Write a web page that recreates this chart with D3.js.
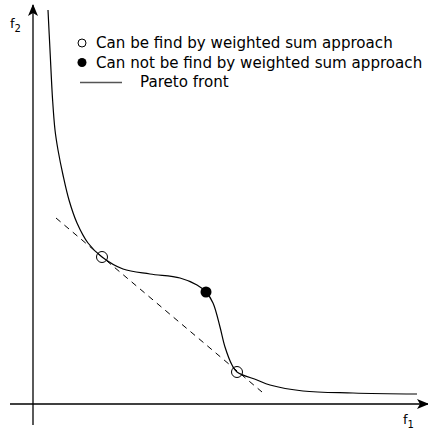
<!DOCTYPE html>
<html>
<head>
<meta charset="utf-8">
<script src="https://cdn.jsdelivr.net/npm/d3@7"></script>
<style>
  body { margin: 0; background: #fff; }
  svg text { font-family: "DejaVu Sans", sans-serif; }
</style>
</head>
<body>
<div id="chart"></div>
<script>
// pareto front (f1, f2)
const frontF1 = [0.375, 0.425, 0.49, 0.55, 0.625, 0.75, 0.9, 1.1, 1.375, 1.725, 2.25, 2.925, 3.675, 4.1, 4.325, 4.5, 4.675, 4.8, 4.975, 5.1, 5.6, 5.925, 6.75, 8.0, 9.6];
const frontF2 = [9.85, 8.85, 7.6, 6.85, 6.35, 5.725, 5.1, 4.525, 4.025, 3.675, 3.375, 3.25, 3.15, 2.975, 2.8, 2.525, 1.925, 1.425, 0.975, 0.8, 0.6, 0.475, 0.325, 0.275, 0.25];
// points found / not found by weighted sum
const openPts = [[1.725, 3.675], [5.1, 0.8]];
const filledPts = [[4.325, 2.8]];
// the dashed weight line
const dashF1 = [0.575, 5.725];
const dashF2 = [4.65, 0.3];
const legendLabels = ["Can be find by weighted sum approach", "Can not be find by weighted sum approach", "Pareto front"];
const axisF1 = [-0.575, 9.875];
const axisF2 = [-0.525, 9.975];

const W = 428, H = 432;
const x = d3.scaleLinear().domain([0, 10]).range([33, 433]);
const y = d3.scaleLinear().domain([0, 10]).range([404, 4]);

const svg = d3.select("#chart").append("svg")
  .attr("width", W).attr("height", H);

svg.append("defs").append("marker")
  .attr("id", "arrow")
  .attr("viewBox", "0 0 12 10")
  .attr("refX", 11).attr("refY", 5)
  .attr("markerWidth", 12).attr("markerHeight", 10)
  .attr("markerUnits", "userSpaceOnUse")
  .attr("orient", "auto")
  .append("path")
  .attr("d", "M0,0 L12,5 L0,10 L3,5 Z")
  .attr("fill", "#000");

// axes
svg.append("line")
  .attr("x1", x(axisF1[0])).attr("x2", x(axisF1[1]))
  .attr("y1", y(0)).attr("y2", y(0))
  .attr("stroke", "#000").attr("stroke-width", 1.3)
  .attr("marker-end", "url(#arrow)");
svg.append("line")
  .attr("x1", x(0)).attr("x2", x(0))
  .attr("y1", y(axisF2[0])).attr("y2", y(axisF2[1]))
  .attr("stroke", "#000").attr("stroke-width", 1.3)
  .attr("marker-end", "url(#arrow)");

// axis labels
const lab2 = svg.append("text").attr("x", 10).attr("y", 28).attr("font-size", 13);
lab2.append("tspan").text("f");
lab2.append("tspan").attr("dy", 4).attr("font-size", 10).text("2");
const lab1 = svg.append("text").attr("x", 403).attr("y", 424).attr("font-size", 13);
lab1.append("tspan").text("f");
lab1.append("tspan").attr("dy", 4).attr("font-size", 10).text("1");

// dashed line
svg.append("line")
  .attr("x1", x(dashF1[0])).attr("y1", y(dashF2[0]))
  .attr("x2", x(dashF1[1])).attr("y2", y(dashF2[1]))
  .attr("stroke", "#000").attr("stroke-width", 1)
  .attr("stroke-dasharray", "6,5");

// pareto front
const line = d3.line()
  .x(d => x(d[0])).y(d => y(d[1]))
  .curve(d3.curveCatmullRom.alpha(0.5));
svg.append("path")
  .datum(frontF1.map((v, i) => [v, frontF2[i]]))
  .attr("d", line)
  .attr("fill", "none")
  .attr("stroke", "#000")
  .attr("stroke-width", 1.2);

svg.selectAll(".open").data(openPts).enter().append("circle")
  .attr("cx", d => x(d[0])).attr("cy", d => y(d[1])).attr("r", 5.5)
  .attr("fill", "none").attr("stroke", "#000").attr("stroke-width", 1);
svg.selectAll(".filled").data(filledPts).enter().append("circle")
  .attr("cx", d => x(d[0])).attr("cy", d => y(d[1])).attr("r", 5.5)
  .attr("fill", "#000");

// legend
const lg = svg.append("g").attr("transform", "translate(82,43)");
lg.append("circle").attr("cx", 0).attr("cy", 0).attr("r", 4)
  .attr("fill", "#fff").attr("stroke", "#000").attr("stroke-width", 1);
lg.append("circle").attr("cx", 0).attr("cy", 19.5).attr("r", 4.5).attr("fill", "#000");
lg.append("line").attr("x1", -2).attr("x2", 40).attr("y1", 39.5).attr("y2", 39.5)
  .attr("stroke", "#555").attr("stroke-width", 1.3);
lg.selectAll(".lt").data(legendLabels).enter().append("text")
  .attr("x", (d, i) => i === 2 ? 58 : 14)
  .attr("y", (d, i) => i * 19.5 + 5)
  .attr("font-size", 15.1)
  .attr("fill", "#000")
  .text(d => d);
</script>
</body>
</html>
